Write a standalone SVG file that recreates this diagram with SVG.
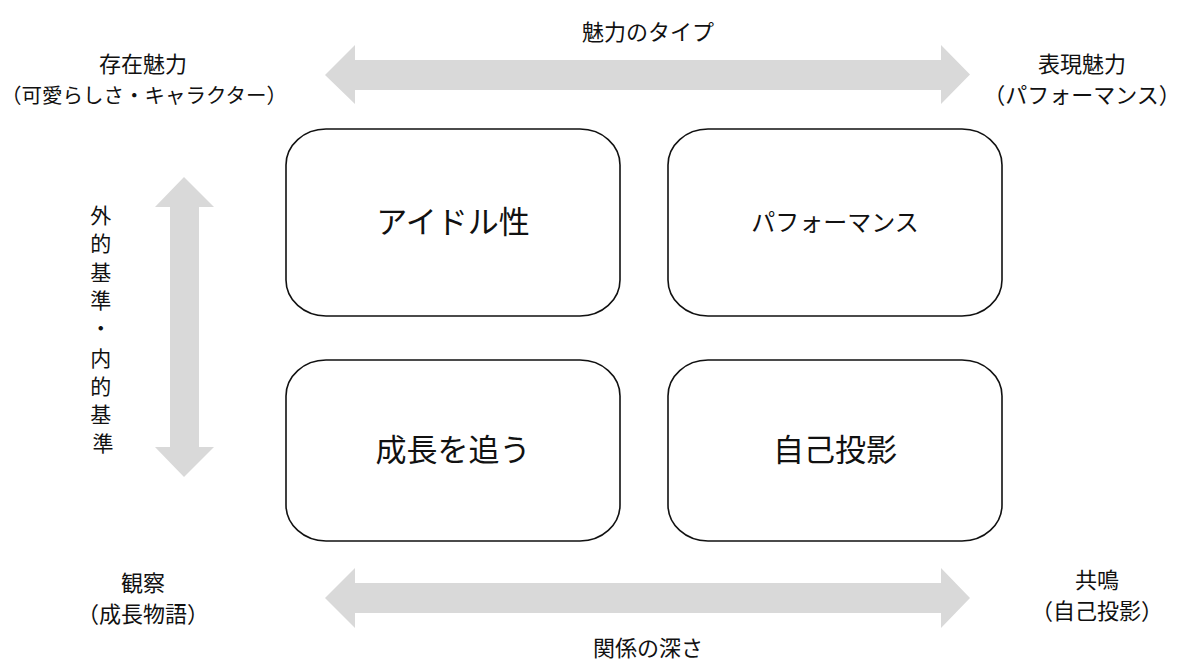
<svg xmlns="http://www.w3.org/2000/svg" width="1200" height="666" viewBox="0 0 1200 666">
<style>
text{font-family:"Noto Sans CJK JP","Noto Sans",sans-serif;fill:#111;text-anchor:middle}
.lbl{font-size:22px}
.vt{font-size:21px}
.big{font-size:31px}
.box{fill:#fff;stroke:#111;stroke-width:1.6}
.arr{fill:#d9d9d9}
</style>
<rect width="1200" height="666" fill="#fff"/>
<g id="connectors">
<polygon class="arr" points="325,75 355,45 355,60 941,60 941,45 970,74.5 941,104 941,90 355,90 355,104"/>
<polygon class="arr" points="325,598 355,568 355,583 941,583 941,568 970,598 941,628 941,613 355,613 355,628"/>
<polygon class="arr" points="184,177 214,207 199,207 199,447 214,447 184,477 155,447 170,447 170,207 155,207"/>
</g>
<g id="node-idol">
<rect class="box" x="286" y="129" width="334" height="187" rx="40" ry="36"/>
<text class="big" x="453" y="233">アイドル性</text>
</g>
<g id="node-performance">
<rect class="box" x="668" y="129" width="334" height="187" rx="40" ry="36"/>
<text x="835" y="231" style="font-size:24px">パフォーマンス</text>
</g>
<g id="node-growth">
<rect class="box" x="286" y="360" width="334" height="181" rx="40" ry="36"/>
<text class="big" x="453" y="461">成長を追う</text>
</g>
<g id="node-projection">
<rect class="box" x="668" y="360" width="334" height="181" rx="40" ry="36"/>
<text class="big" x="835" y="461">自己投影</text>
</g>
<g id="labels">
<text class="lbl" x="648" y="40">魅力のタイプ</text>
<text class="lbl" x="143" y="72">存在魅力</text>
<text class="lbl" x="144" y="103" style="font-size:20.5px">（可愛らしさ・キャラクター）</text>
<text class="lbl" x="1082" y="72">表現魅力</text>
<text class="lbl" x="1082" y="103">（パフォーマンス）</text>
<text class="lbl" x="143" y="591">観察</text>
<text class="lbl" x="143" y="622">（成長物語）</text>
<text class="lbl" x="1097" y="588">共鳴</text>
<text class="lbl" x="1097" y="619">（自己投影）</text>
<text class="lbl" x="648" y="656">関係の深さ</text>
<text class="vt" x="103">
<tspan x="103" y="223">外</tspan>
<tspan x="103" y="251">的</tspan>
<tspan x="103" y="280">基</tspan>
<tspan x="103" y="308">準</tspan>
<tspan x="103" y="336">・</tspan>
<tspan x="103" y="366">内</tspan>
<tspan x="103" y="394">的</tspan>
<tspan x="103" y="422">基</tspan>
<tspan x="103" y="451">準</tspan>
</text>
</g>
</svg>
